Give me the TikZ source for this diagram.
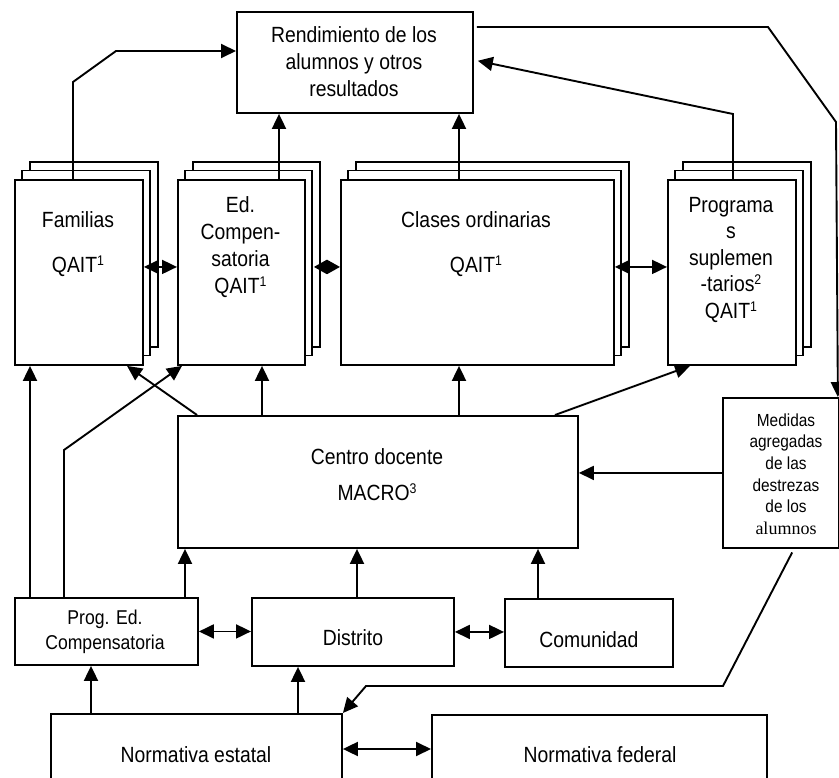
\documentclass[tikz,border=0pt]{standalone}
\usepackage{fontspec}
\setmainfont{Liberation Sans}[FakeStretch=0.88]
\newfontfamily\timesface{Liberation Serif}
\usetikzlibrary{arrows.meta}

\tikzset{
  frame/.style={draw, line width=1.9pt, fill=white},
  panel/.style={frame, rectangle, inner sep=0pt, anchor=north west},
  lbl/.style={align=center, inner sep=0pt, font=\fontsize{22}{27}\selectfont},
  arr/.style={line width=1.9pt, -{Triangle[length=15pt,width=14pt]}},
  dbl/.style={line width=1.9pt, {Triangle[length=15pt,width=14pt]}-{Triangle[length=15pt,width=14pt]}},
  shortdbl/.style={line width=1.9pt, {Triangle[length=13pt,width=14pt]}-{Triangle[length=13pt,width=14pt]}},
}
% small raised footnote digit
\newcommand\suptext[1]{\raisebox{7pt}{\fontsize{14}{14}\selectfont #1}}
% a box with two sheets stacked behind it: name, x, y, width
\newcommand\layered[4]{%
  \draw[frame] (#2+16,#3-17) rectangle ++(#4,185);
  \draw[frame] (#2+8,#3-8.5) rectangle ++(#4,185);
  \node[panel, minimum width=#4pt, minimum height=185pt] (#1) at (#2,#3) {};
}

\begin{document}
\begin{tikzpicture}[x=1pt, y=-1pt]
\useasboundingbox (0,0) rectangle (839,778);
\begin{scope}
\clip (0,0) rectangle (839,778);

% boxes
\node[panel, minimum width=236pt, minimum height=101pt] (rend) at (236,11) {};
\layered{fam}{14}{179}{128}
\layered{edc}{177}{179}{127}
\layered{cla}{340}{179}{273}
\layered{pro}{667}{179}{128}
\node[panel, minimum width=400pt, minimum height=132pt] (cen) at (177,415) {};
\node[panel, minimum width=116pt, minimum height=150pt] (med) at (722,397) {};
\node[panel, minimum width=183pt, minimum height=67pt] (pec) at (14,597) {};
\node[panel, minimum width=202pt, minimum height=68pt] (dis) at (251,597) {};
\node[panel, minimum width=168pt, minimum height=68pt] (com) at (504,598) {};
\node[panel, minimum width=291pt, minimum height=90pt] (nes) at (50,713) {};
\node[panel, minimum width=335pt, minimum height=90pt] (nfe) at (431,714) {};

% texts
\node[lbl] (trend) at (354,62) {Rendimiento de los\\alumnos y otros\\resultados};
\node[lbl] (tfam) at (78,244) {Familias\\[18pt]QAIT\suptext{1}};
\node[lbl] (tedc) at (240.5,247) {Ed.\\Compen-\\satoria\\QAIT\suptext{1}};
\node[lbl] (tcla) at (476,244) {Clases ordinarias\\[18pt]QAIT\suptext{1}};
\node[lbl, font=\fontsize{22}{26.5}\selectfont] (tpro) at (731,260)
  {Programa\\s\\suplemen\\-tarios\suptext{2}\\QAIT\suptext{1}};
\node[lbl] (tcen) at (377,475) {Centro docente\\[9pt]MACRO\suptext{3}};
\node[lbl, font=\fontsize{17.5}{21.7}\selectfont] (tmed) at (786,474)
  {Medidas\\agregadas\\de las\\destrezas\\de los\\{\timesface\fontsize{18}{21.7}\selectfont alumnos}};
\node[lbl, font=\fontsize{20}{25}\selectfont] (tpec) at (105,632) {Prog. Ed.\\Compensatoria};
\node[lbl] (tdis) at (353,638) {Distrito};
\node[lbl] (tcom) at (589,640) {Comunidad};
\node[lbl] (tnes) at (196,755) {Normativa estatal};
\node[lbl] (tnfe) at (600,755) {Normativa federal};

% upward flows into the results box
\draw[arr] ([xshift=59pt]fam.north west) -- ++(0,-97) -- (116,51) -- (rend.west |- 116,51);
\draw[arr] ([xshift=102pt]edc.north west) -- ([xshift=43pt]rend.south west);
\draw[arr] ([xshift=119pt]cla.north west) -- ([xshift=223pt]rend.south west);
\draw[arr, shorten >=4pt] ([xshift=66pt]pro.north west) -- ++(0,-65) -- (rend.east |- 0,60);

% feedback from results to aggregated measures
\draw[arr, shorten <=3pt] ([yshift=-16pt]rend.north east) -- (768,27) -- (836,122)
  -- ([xshift=-2pt]med.north east);

% links between classroom-level units
\draw[dbl] ([yshift=5.5pt]fam.east) -- ([yshift=5.5pt]edc.west);
\draw[shortdbl] ([xshift=8pt,yshift=5.5pt]edc.east) -- ([yshift=5.5pt]cla.west);
\draw[dbl] ([yshift=5.5pt]cla.east) -- ([yshift=5.5pt]pro.west);

% school to classroom-level units
\draw[arr] ([xshift=20pt]cen.north west) -- ([xshift=113pt]fam.south west);
\draw[arr] ([xshift=85pt]cen.north west) -- ([xshift=85pt]edc.south west);
\draw[arr] ([xshift=282pt]cen.north west) -- ([xshift=119pt]cla.south west);
\draw[arr] ([xshift=378pt]cen.north west) -- ([xshift=23pt]pro.south west);
\draw[arr] (med.west) -- (med.west -| cen.east);

% compensatory programme upwards
\draw[arr] ([xshift=16pt]pec.north west) -- ([xshift=16pt]fam.south west);
\draw[arr] ([xshift=50pt]pec.north west) -- ++(0,-147) -- ([xshift=5pt]edc.south west);
\draw[arr] ([xshift=171pt]pec.north west) -- ([xshift=8pt]cen.south west);
\draw[arr] ([xshift=106pt]dis.north west) -- ([xshift=180pt]cen.south west);
\draw[arr] ([xshift=34pt]com.north west) -- ([xshift=361pt]cen.south west);

% district level
\draw[dbl] (pec.east) -- (pec.east -| dis.west);
\draw[dbl] (dis.east) -- (dis.east -| com.west);

% policy level
\draw[arr] ([xshift=41pt]nes.north west) -- ([xshift=77pt]pec.south west);
\draw[arr] ([xshift=248pt]nes.north west) -- ([xshift=47pt]dis.south west);
\coordinate (nesr) at ([yshift=-36pt]nes.north east);
\draw[dbl] (nesr) -- (nesr -| nfe.west);
\draw[arr, shorten <=4pt] ([xshift=72pt]med.south west) -- (723,686) -- (366,686) -- (nes.north east);
\end{scope}
\end{tikzpicture}
\end{document}
